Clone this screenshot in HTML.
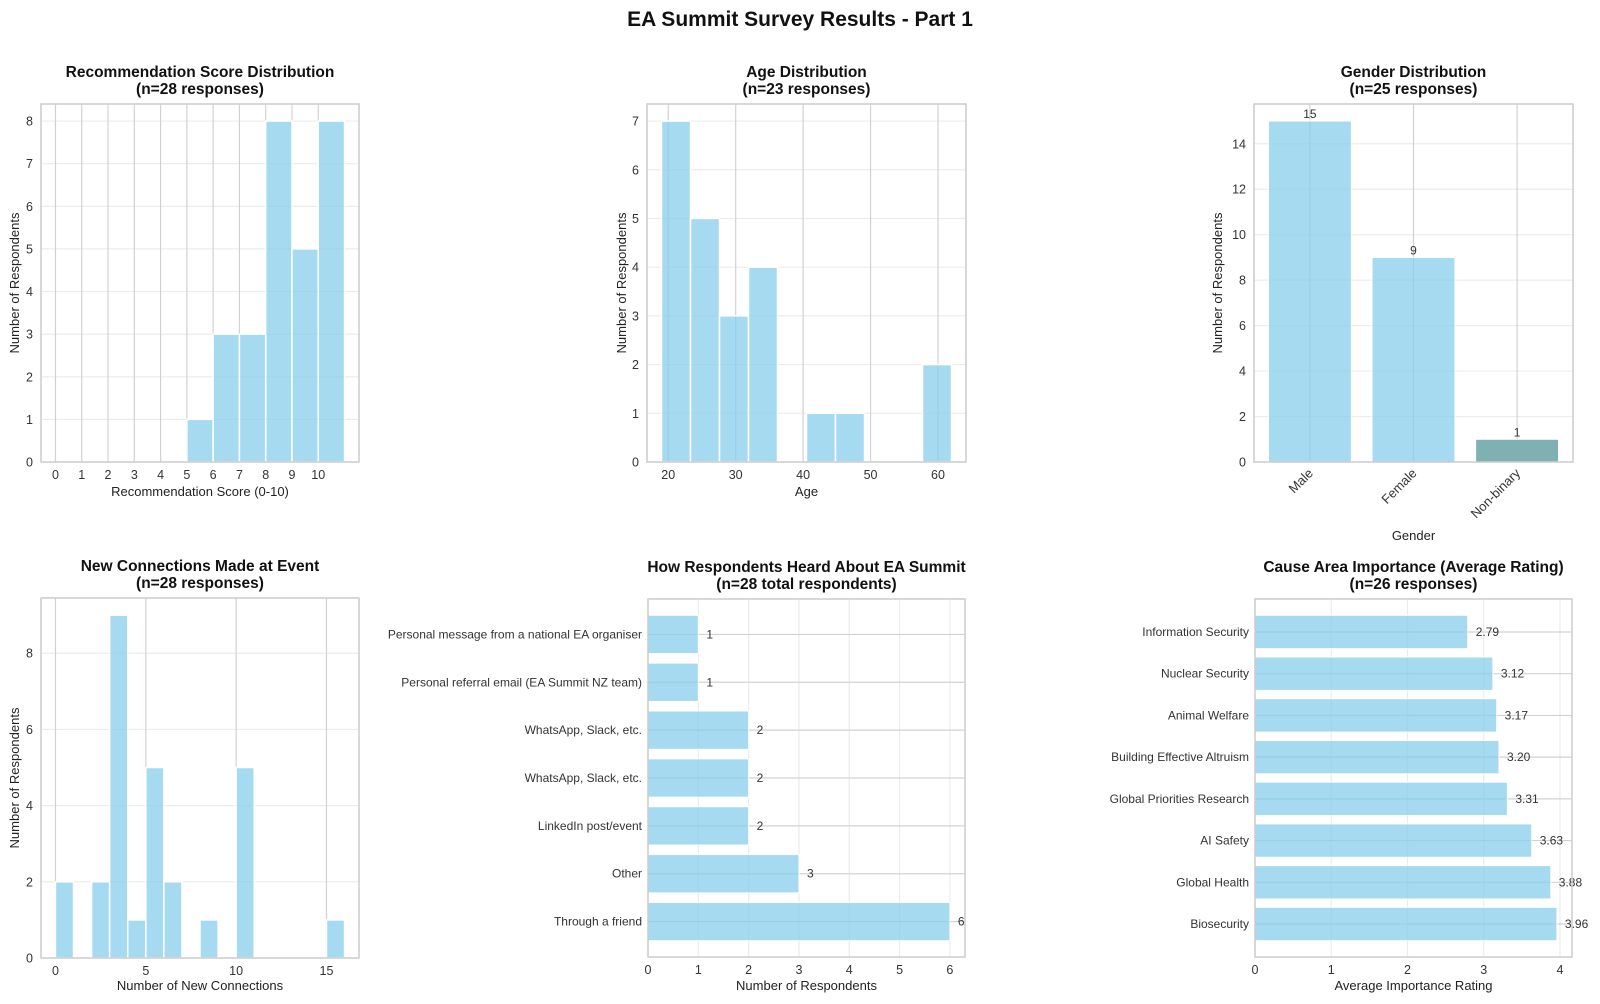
<!DOCTYPE html>
<html><head><meta charset="utf-8"><style>
html,body{margin:0;padding:0;background:#fff;}
svg{display:block;font-family:"Liberation Sans",Arial,sans-serif;}
</style></head><body>
<svg id="fig" width="1600" height="1004" viewBox="0 0 1600 1004" xmlns="http://www.w3.org/2000/svg">
<text x="800" y="26" text-anchor="middle" font-size="21" font-weight="bold" fill="#111">EA Summit Survey Results - Part 1</text>
</svg>
<script>
// ---- data ----
const recBinEdges = [5,6,7,8,9,10,11];
const recCounts = [1,3,3,8,5,8];
const recTicks = [0,1,2,3,4,5,6,7,8,9,10];
const ageBinEdges = [19,23.3,27.6,31.9,36.2,40.5,44.8,49.1,53.4,57.7,62];
const ageCounts = [7,5,3,4,0,1,1,0,0,2];
const ageTicks = [20,30,40,50,60];
const genderCats = ["Male","Female","Non-binary"];
const genderCounts = [15,9,1];
const connBinEdges = [0,1,2,3,4,5,6,7,8,9,10,11,12,13,14,15,16];
const connCounts = [2,0,2,9,1,5,2,0,1,0,5,0,0,0,0,1];
const connTicks = [0,5,10,15];
const heardCats = ["Through a friend","Other","LinkedIn post/event","WhatsApp, Slack, etc.","WhatsApp, Slack, etc.","Personal referral email (EA Summit NZ team)","Personal message from a national EA organiser"];
const heardCounts = [6,3,2,2,2,1,1];
const causeCats = ["Biosecurity","Global Health","AI Safety","Global Priorities Research","Building Effective Altruism","Animal Welfare","Nuclear Security","Information Security"];
const causeRatings = [3.96,3.88,3.63,3.31,3.20,3.17,3.12,2.79];
const causeLabels = ["3.96","3.88","3.63","3.31","3.20","3.17","3.12","2.79"];

const NS = "http://www.w3.org/2000/svg";
const fig = document.getElementById('fig');
const BAR = "rgba(135,206,235,0.75)";
const DARK = "#d2d2d2", LIGHT = "#ececec";
function mk(tag, attrs, parent, txt){
  const e = document.createElementNS(NS, tag);
  for (const k in attrs) e.setAttribute(k, attrs[k]);
  if (txt !== undefined) e.textContent = txt;
  (parent || fig).appendChild(e);
  return e;
}
function axes(name, L, R, T, B, x0, x1, y0, y1){
  const g = mk('g', {});
  
  
  return {g, L, R, T, B,
    sx: v => L + (v - x0) / (x1 - x0) * (R - L),
    sy: v => B - (v - y0) / (y1 - y0) * (B - T)};
}
function title(a, l1, l2){
  const cx = (a.L + a.R) / 2;
  const t = mk('text', {x:cx, y:a.T-27, 'text-anchor':'middle','font-size':15.5,'font-weight':'bold',fill:'#111'}, a.g, l1);
  
  
  const t2 = mk('text', {x:cx, y:a.T-10, 'text-anchor':'middle','font-size':15.5,'font-weight':'bold',fill:'#111'}, a.g, l2);
  
  
}
function vgrid(a, ticks, col, lab){
  ticks.forEach(v => {
    mk('line', {x1:a.sx(v), x2:a.sx(v), y1:a.T, y2:a.B, stroke:col, 'stroke-width':1.2}, a.g);
    if (lab) {
      const t = mk('text', {x:a.sx(v), y:a.B+17, 'text-anchor':'middle','font-size':12.5,fill:'#333'}, a.g, String(v));
      
      
    }
  });
}
function hgrid(a, ticks, col, lab){
  ticks.forEach(v => {
    mk('line', {x1:a.L, x2:a.R, y1:a.sy(v), y2:a.sy(v), stroke:col, 'stroke-width':1.2}, a.g);
    if (lab) {
      const t = mk('text', {x:a.L-8, y:a.sy(v)+4.5, 'text-anchor':'end','font-size':12.5,fill:'#333'}, a.g, String(v));
      
      
    }
  });
}
function frame(a){
  const r = mk('rect', {x:a.L, y:a.T, width:a.R-a.L, height:a.B-a.T, fill:'none', stroke:'#cccccc','stroke-width':1.5}, a.g);
  
  
}
function xlabel(a, s, y){
  const t = mk('text', {x:(a.L+a.R)/2, y:y, 'text-anchor':'middle','font-size':13,fill:'#222'}, a.g, s);
  
  
}
function ylabel(a, s, x){
  const cy = (a.T+a.B)/2;
  const t = mk('text', {x:x, y:cy, 'text-anchor':'middle','font-size':13,fill:'#222', transform:`rotate(-90 ${x} ${cy})`}, a.g, s);
  
  
}
function hist(a, edges, counts, name){
  counts.forEach((c, i) => {
    if (c <= 0) return;
    const x = a.sx(edges[i]), w = a.sx(edges[i+1]) - x;
    const r = mk('rect', {x:x, y:a.sy(c), width:w, height:a.sy(0)-a.sy(c), fill:BAR, stroke:'#fff','stroke-width':1.5}, a.g);
    
    
  });
}
function range(lo, hi, pad){ const m=(hi-lo)*pad; return [lo-m, hi+m]; }

// ---- Panel 1: Recommendation ----
{
  const [x0,x1] = range(0, 11, 0.05);
  const ymax = Math.max(...recCounts) * 1.05;
  const a = axes('recommendation-chart', 41, 359, 104, 462, x0, x1, 0, ymax);
  title(a, 'Recommendation Score Distribution', '(n=28 responses)');
  hgrid(a, [0,1,2,3,4,5,6,7,8], LIGHT, true);
  vgrid(a, recTicks, DARK, true);
  hist(a, recBinEdges, recCounts, 'recommendation-bar');
  frame(a);
  xlabel(a, 'Recommendation Score (0-10)', 496);
  ylabel(a, 'Number of Respondents', 19);
}
// ---- Panel 2: Age ----
{
  const [x0,x1] = range(ageBinEdges[0], ageBinEdges[ageBinEdges.length-1], 0.05);
  const ymax = Math.max(...ageCounts) * 1.05;
  const a = axes('age-chart', 647, 966, 104, 462, x0, x1, 0, ymax);
  title(a, 'Age Distribution', '(n=23 responses)');
  hgrid(a, [0,1,2,3,4,5,6,7], LIGHT, true);
  vgrid(a, ageTicks, DARK, true);
  hist(a, ageBinEdges, ageCounts, 'age-bar');
  frame(a);
  xlabel(a, 'Age', 496);
  ylabel(a, 'Number of Respondents', 626);
}
// ---- Panel 3: Gender ----
{
  const n = genderCats.length;
  const [x0,x1] = range(-0.4, n-1+0.4, 0.05);
  const ymax = Math.max(...genderCounts) * 1.05;
  const a = axes('gender-chart', 1254, 1573, 104, 462, x0, x1, 0, ymax);
  title(a, 'Gender Distribution', '(n=25 responses)');
  hgrid(a, [0,2,4,6,8,10,12,14], LIGHT, true);
  genderCats.forEach((c, i) => mk('line', {x1:a.sx(i), x2:a.sx(i), y1:a.T, y2:a.B, stroke:DARK,'stroke-width':1.2}, a.g));
  genderCounts.forEach((v, i) => {
    const x = a.sx(i-0.4), w = a.sx(i+0.4)-x;
    const r = mk('rect', {x:x, y:a.sy(v), width:w, height:a.sy(0)-a.sy(v), fill: i===2 ? '#7fb1b3' : BAR, stroke:'#fff','stroke-width':1}, a.g);
    
    
    const t = mk('text', {x:a.sx(i), y:a.sy(v)-3, 'text-anchor':'middle','font-size':12,fill:'#333'}, a.g, String(v));
    
    
    const tx = a.sx(i)+4, ty = a.B+12;
    const l = mk('text', {x:tx, y:ty, 'text-anchor':'end','font-size':13,fill:'#333', transform:`rotate(-45 ${tx} ${ty})`}, a.g, genderCats[i]);
    
    
  });
  frame(a);
  xlabel(a, 'Gender', 540);
  ylabel(a, 'Number of Respondents', 1222);
}
// ---- Panel 4: Connections ----
{
  const [x0,x1] = range(0, 16, 0.05);
  const ymax = Math.max(...connCounts) * 1.05;
  const a = axes('connections-chart', 41, 359, 598, 958, x0, x1, 0, ymax);
  title(a, 'New Connections Made at Event', '(n=28 responses)');
  hgrid(a, [0,2,4,6,8], LIGHT, true);
  vgrid(a, connTicks, DARK, true);
  hist(a, connBinEdges, connCounts, 'connections-bar');
  frame(a);
  xlabel(a, 'Number of New Connections', 990);
  ylabel(a, 'Number of Respondents', 19);
}
// horizontal bar helper
function hbar(a, cats, vals, labels, name, off){
  vals.forEach((v, i) => {
    mk('line', {x1:a.L, x2:a.R, y1:a.sy(i), y2:a.sy(i), stroke:DARK,'stroke-width':1.2}, a.g);
  });
  vals.forEach((v, i) => {
    const y = a.sy(i+0.4), h = a.sy(i-0.4)-y;
    const r = mk('rect', {x:a.sx(0), y:y, width:a.sx(v)-a.sx(0), height:h, fill:BAR, stroke:'#fff','stroke-width':1}, a.g);
    
    
    const t = mk('text', {x:a.sx(v)+off, y:a.sy(i)+4, 'font-size':12,fill:'#333'}, a.g, labels[i]);
    
    
    const c = mk('text', {x:a.L-6, y:a.sy(i)+4, 'text-anchor':'end','font-size':12,fill:'#333'}, a.g, cats[i]);
    
    
  });
}
// ---- Panel 5: Heard ----
{
  const n = heardCats.length;
  const [y0,y1] = range(-0.4, n-1+0.4, 0.05);
  const xmax = Math.max(...heardCounts) * 1.05;
  const a = axes('heard-about-chart', 648, 965, 599, 957, 0, xmax, y0, y1);
  title(a, 'How Respondents Heard About EA Summit', '(n=28 total respondents)');
  vgrid(a, [0,1,2,3,4,5,6], LIGHT, true);
  hbar(a, heardCats, heardCounts, heardCounts.map(String), 'heard-bar', 8);
  frame(a);
  xlabel(a, 'Number of Respondents', 990);
}
// ---- Panel 6: Cause ----
{
  const n = causeCats.length;
  const [y0,y1] = range(-0.4, n-1+0.4, 0.05);
  const xmax = Math.max(...causeRatings) * 1.05;
  const a = axes('cause-area-chart', 1255, 1572, 599, 957, 0, xmax, y0, y1);
  title(a, 'Cause Area Importance (Average Rating)', '(n=26 responses)');
  vgrid(a, [0,1,2,3,4], LIGHT, true);
  hbar(a, causeCats, causeRatings, causeLabels, 'cause-bar', 8);
  frame(a);
  xlabel(a, 'Average Importance Rating', 990);
}
</script>
</body></html>
